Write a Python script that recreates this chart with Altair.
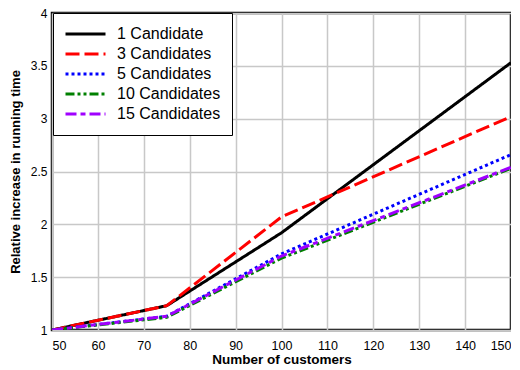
import altair as alt
import pandas as pd

customers = [50, 75, 100, 150]
series_names = ["1 Candidate", "3 Candidates", "5 Candidates", "10 Candidates", "15 Candidates"]
values = {
    "1 Candidate":   [1.0, 1.23, 1.92, 3.53],
    "3 Candidates":  [1.0, 1.23, 2.07, 3.02],
    "5 Candidates":  [1.0, 1.13, 1.72, 2.66],
    "10 Candidates": [1.0, 1.12, 1.68, 2.53],
    "15 Candidates": [1.0, 1.13, 1.70, 2.54],
}
colors = ["#000000", "#ff0000", "#0000ff", "#008000", "#a000ff"]
dashes = [[1, 0], [14, 5], [3, 3], [9, 3, 3, 3, 3, 3], [11, 4, 5, 4]]
x_ticks = list(range(50, 151, 10))
y_ticks = [1, 1.5, 2, 2.5, 3, 3.5, 4]

rows = []
for i, s in enumerate(series_names):
    for c, v in zip(customers, values[s]):
        rows.append({"series": s, "customers": c, "value": v, "order": i})
df = pd.DataFrame(rows)

legend_kw = dict(title=None, orient="none", legendX=1, legendY=0,
                 symbolType="stroke", symbolSize=1600,
                 symbolStrokeWidth=3, labelFontSize=16,
                 labelFont="Liberation Sans", labelColor="#000000",
                 padding=11, rowPadding=0, clipHeight=20, labelOffset=10,
                 strokeColor="#000000", fillColor="#ffffff",
                 labelLimit=300)

chart = alt.Chart(df).mark_line(strokeWidth=3, clip=True).encode(
    x=alt.X("customers:Q", title="Number of customers",
            scale=alt.Scale(domain=[50, 150], nice=False),
            axis=alt.Axis(values=x_ticks)),
    y=alt.Y("value:Q", title="Relative increase in running time",
            scale=alt.Scale(domain=[1, 4], nice=False),
            axis=alt.Axis(values=y_ticks, format="~g")),
    color=alt.Color("series:N", sort=series_names,
                    scale=alt.Scale(domain=series_names, range=colors),
                    legend=alt.Legend(**legend_kw)),
    strokeDash=alt.StrokeDash("series:N", sort=series_names,
                              scale=alt.Scale(domain=series_names, range=dashes),
                              legend=alt.Legend(**legend_kw)),
    order=alt.Order("order:Q"),
).properties(
    width=459, height=317,
    autosize=alt.AutoSizeParams(type="none"),
    padding={"left": 44, "top": 5, "right": 0, "bottom": 36},
).configure_view(
    stroke="#000000", strokeWidth=2.5
).configure_axis(
    domain=False, ticks=False, grid=True, gridColor="#c8c8c8", gridWidth=1.5,
    labelFont="Liberation Sans", labelColor="#000000",
    titleFont="Liberation Sans", titleFontWeight="bold",
    titleColor="#000000",
).configure_axisX(
    titlePadding=1, labelPadding=9, labelFontSize=12.5, titleFontSize=13.5
).configure_axisY(
    titlePadding=8, labelPadding=5, labelFontSize=12, titleFontSize=13
)

chart.save("out.html", embed_options={"renderer": "svg", "actions": False})
